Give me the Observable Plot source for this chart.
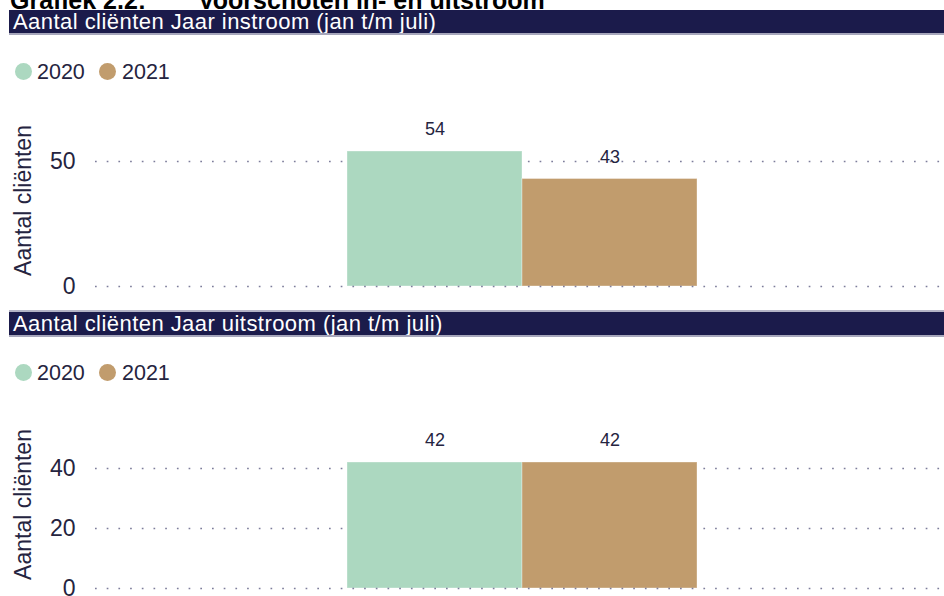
<!DOCTYPE html>
<html>
<head>
<meta charset="utf-8">
<script src="https://cdn.jsdelivr.net/npm/d3@7"></script>
<script src="https://cdn.jsdelivr.net/npm/@observablehq/plot@0.6"></script>
<style>
  html, body { margin: 0; padding: 0; background: #fff; }
  body { width: 944px; height: 596px; position: relative; overflow: hidden; font-family: "Liberation Sans", Arial, sans-serif; }
  .title { position: absolute; top: -14px; font-weight: bold; font-size: 25px; line-height: 29px; color: #000; white-space: pre; }
  .hdr { position: absolute; left: 9px; width: 935px; background: #1b1b4b; color: #fff; font-size: 22px; letter-spacing: 0.45px; line-height: 23px; padding-left: 4px; box-sizing: border-box; white-space: pre; overflow: hidden; }
  .hdr2 { border-top: 2px solid #b4b4c6; border-bottom: 2px solid #a6a6bb; }
  .hdr1 { border-bottom: 2px solid #a6a6bb; }
  .legend { position: absolute; left: 0; height: 24px; width: 300px; }
  .legend .dot { position: absolute; width: 17px; height: 17px; border-radius: 50%; top: 3px; }
  .legend .lab { position: absolute; font-size: 21.5px; color: #252440; top: 0; line-height: 24px; }
  .chart { position: absolute; left: 0; }
</style>
</head>
<body>
<div class="title" style="left:10px;">Grafiek 2.2:</div>
<div class="title" style="left:198px;">Voorschoten in- en uitstroom</div>

<div id="hdr1" class="hdr hdr1" style="top:10px;height:25px;"></div>
<div id="leg1" class="legend" style="top:60px;"></div>
<div id="chart1" class="chart" style="top:100px;"></div>

<div id="hdr2" class="hdr hdr2" style="top:310px;height:27px;"></div>
<div id="leg2" class="legend" style="top:361px;"></div>
<div id="chart2" class="chart" style="top:395px;"></div>

<script>
// ---- data ----
const years = ["2020", "2021"];
const colors = ["#acd8c0", "#c19c6d"];
const instroomTitle = "Aantal cliënten Jaar instroom (jan t/m juli)";
const uitstroomTitle = "Aantal cliënten Jaar uitstroom (jan t/m juli)";
const yLabel = "Aantal cliënten";
const instroomValues = [54, 43];
const uitstroomValues = [42, 42];
const instroomTicks = [0, 50];
const uitstroomTicks = [0, 20, 40];

document.getElementById("hdr1").textContent = instroomTitle;
document.getElementById("hdr2").textContent = uitstroomTitle;

function legend(id) {
  const el = document.getElementById(id);
  const dotX = [15, 99];
  const labX = [37, 122];
  years.forEach((y, i) => {
    const d = document.createElement("div");
    d.className = "dot";
    d.style.left = dotX[i] + "px";
    d.style.background = colors[i];
    el.appendChild(d);
    const t = document.createElement("div");
    t.className = "lab";
    t.style.left = labX[i] + "px";
    t.textContent = y;
    el.appendChild(t);
  });
}
legend("leg1");
legend("leg2");

function chart(values, ticks, yMax, height, marginTop, marginBottom, labelDy) {
  const data = years.map((y, i) => ({year: y, value: values[i]}));
  return Plot.plot({
    width: 944,
    height,
    marginLeft: 95,
    marginRight: 0,
    marginTop,
    marginBottom,
    style: {fontFamily: "'Liberation Sans', Arial, sans-serif", background: "transparent", overflow: "visible"},
    x: {domain: years, range: [347, 697], padding: 0, axis: null},
    y: {domain: [0, yMax], axis: null},
    color: {domain: years, range: colors},
    marks: [
      Plot.ruleY(ticks.filter(t => t !== 0), {stroke: "#6f6f90", strokeWidth: 1.7, strokeDasharray: "1.7 10", strokeOpacity: 0.9}),
      Plot.barY(data, {x: "year", y: "value", fill: "year", stroke: "#ffffff", strokeOpacity: 0.35, strokeWidth: 1}),
      Plot.ruleY([0], {stroke: "#6f6f90", strokeWidth: 1.7, strokeDasharray: "1.7 10", strokeOpacity: 0.9}),
      Plot.axisY(ticks, {tickSize: 0, tickPadding: 20, fontSize: 23, fill: "#252440", label: null}),
      Plot.text(data, {x: "year", y: "value", text: d => String(d.value), dy: -22, fontSize: 18, fill: "#252440"}),
      Plot.text([yLabel], {frameAnchor: "left", text: d => d, textAnchor: "middle", rotate: -90, dx: -72, dy: labelDy, fontSize: 23, fill: "#252440"})
    ]
  });
}

// chart 1: zero at page y 286, 50 at 161 (svg top at 100)
document.getElementById("chart1").appendChild(chart(instroomValues, instroomTicks, 60, 200, 36, 14, -11));
// chart 2: zero at page y 588, 40 at 468 (svg top at 395)
document.getElementById("chart2").appendChild(chart(uitstroomValues, uitstroomTicks, 50, 201, 43, 8, -9));
</script>
</body>
</html>
